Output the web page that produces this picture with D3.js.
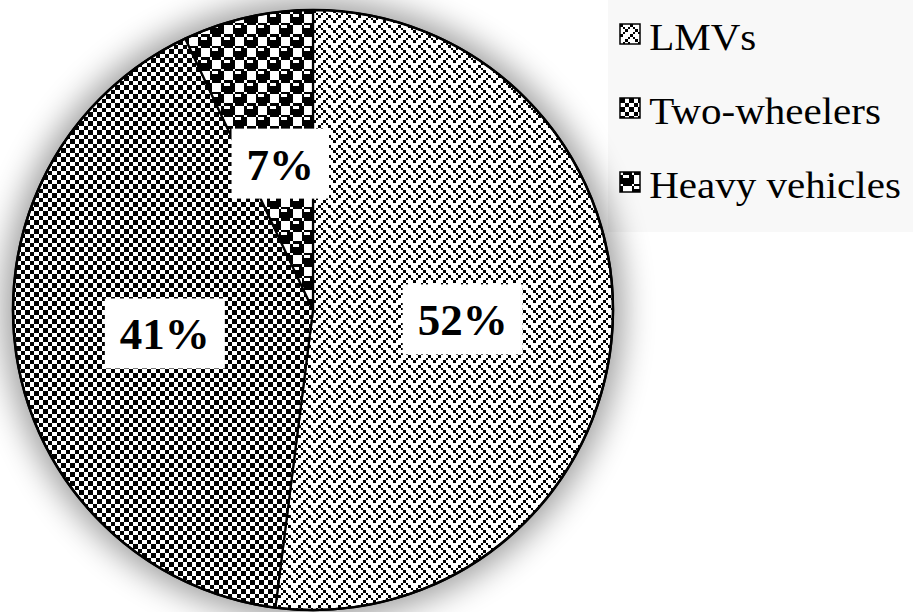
<!DOCTYPE html>
<html>
<head>
<meta charset="utf-8">
<script src="https://cdn.jsdelivr.net/npm/d3@7"></script>
<style>
  html, body { margin: 0; padding: 0; background: #fff; }
  svg { display: block; }
</style>
</head>
<body>
<svg id="chart" width="913" height="612"></svg>
<script>
// Vehicle mix shares (percent), clockwise from 12 o'clock
const categories = ["LMVs", "Two-wheelers", "Heavy vehicles"];
const shares = [52, 41, 7];

// 8x8 monochrome fill patterns, one row per byte (MSB = leftmost pixel)
const patternBits = {
  weave:   [0x88, 0x54, 0x22, 0x45, 0x88, 0x14, 0x22, 0x51],
  checker: [0xCC, 0xCC, 0x33, 0x33, 0xCC, 0xCC, 0x33, 0x33],
  sphere:  [0x77, 0x98, 0xF8, 0xF8, 0x77, 0x89, 0x8F, 0x8F]
};
// tile size in px for each pattern
const patternTile = { weave: 20, checker: 18, sphere: 23 };
const patternFor = ["weave", "checker", "sphere"];

const W = 913, H = 612;
const cx = 313, cy = 310, R = 300;

const svg = d3.select("#chart");
const defs = svg.append("defs");

Object.entries(patternBits).forEach(([name, rows]) => {
  const tile = patternTile[name];
  const edge = i => Math.round(i * tile / 8);
  const p = defs.append("pattern")
    .attr("id", "pat-" + name)
    .attr("patternUnits", "userSpaceOnUse")
    .attr("width", tile)
    .attr("height", tile);
  p.append("rect").attr("width", tile).attr("height", tile).attr("fill", "#fff");
  rows.forEach((byte, r) => {
    for (let c = 0; c < 8; c++) {
      if (byte & (0x80 >> c)) {
        p.append("rect")
          .attr("x", edge(c)).attr("y", edge(r))
          .attr("width", edge(c + 1) - edge(c)).attr("height", edge(r + 1) - edge(r))
          .attr("fill", "#000")
          .attr("shape-rendering", "crispEdges");
      }
    }
  });
});

const blur = defs.append("filter").attr("id", "shadow")
  .attr("x", "-30%").attr("y", "-30%").attr("width", "160%").attr("height", "160%");
blur.append("feGaussianBlur").attr("stdDeviation", 16);

// legend panel background
svg.append("rect")
  .attr("x", 608).attr("y", 0).attr("width", W - 608).attr("height", 232)
  .attr("fill", "#f8f8f8");

// soft shadow behind the pie
svg.append("circle")
  .attr("cx", cx).attr("cy", cy).attr("r", R + 10)
  .attr("fill", "#000").attr("opacity", 0.38)
  .attr("filter", "url(#shadow)");

const pie = d3.pie().sort(null).value(d => d.value);
const data = pie(categories.map((c, i) => ({ name: c, value: shares[i], pat: patternFor[i] })));
const arc = d3.arc().innerRadius(0).outerRadius(R);
const labelArc = d3.arc().innerRadius(R * 0.5).outerRadius(R * 0.5);

const g = svg.append("g").attr("transform", `translate(${cx},${cy})`);

g.selectAll("path.slice")
  .data(data)
  .join("path")
  .attr("class", "slice")
  .attr("d", arc)
  .attr("fill", d => `url(#pat-${d.data.pat})`)
  .attr("stroke", "#000")
  .attr("stroke-width", 2.2)
  .attr("stroke-linejoin", "round");

g.append("circle").attr("r", R).attr("fill", "none")
  .attr("stroke", "#000").attr("stroke-width", 2.5);

// percentage labels on white boxes
const lab = g.selectAll("g.lab")
  .data(data)
  .join("g")
  .attr("class", "lab")
  .attr("transform", d => `translate(${labelArc.centroid(d)})`);

lab.each(function(d) {
  const sel = d3.select(this);
  const t = sel.append("text")
    .attr("text-anchor", "middle")
    .attr("y", 16)
    .attr("font-family", "'Liberation Serif', 'Times New Roman', serif")
    .attr("font-weight", "bold")
    .attr("font-size", 45)
    .attr("fill", "#000")
    .text(d.data.value + "%");
  const bb = t.node().getBBox();
  sel.insert("rect", "text")
    .attr("x", bb.x - 15).attr("y", -35)
    .attr("width", bb.width + 30).attr("height", 70)
    .attr("fill", "#fff");
});

// legend
const leg = svg.append("g").attr("transform", "translate(620,24)");
const items = leg.selectAll("g.item")
  .data(data)
  .join("g")
  .attr("class", "item")
  .attr("transform", (d, i) => `translate(0,${i * 74})`);

items.append("rect")
  .attr("width", 20).attr("height", 20)
  .attr("fill", d => `url(#pat-${d.data.pat})`)
  .attr("stroke", "#000").attr("stroke-width", 1.5);

items.append("text")
  .attr("x", 27).attr("y", 26)
  .attr("font-family", "'Liberation Serif', 'Times New Roman', serif")
  .attr("font-size", 38)
  .attr("fill", "#000")
  .attr("transform", "scale(1.08,1)")
  .text(d => d.data.name);
</script>
</body>
</html>
